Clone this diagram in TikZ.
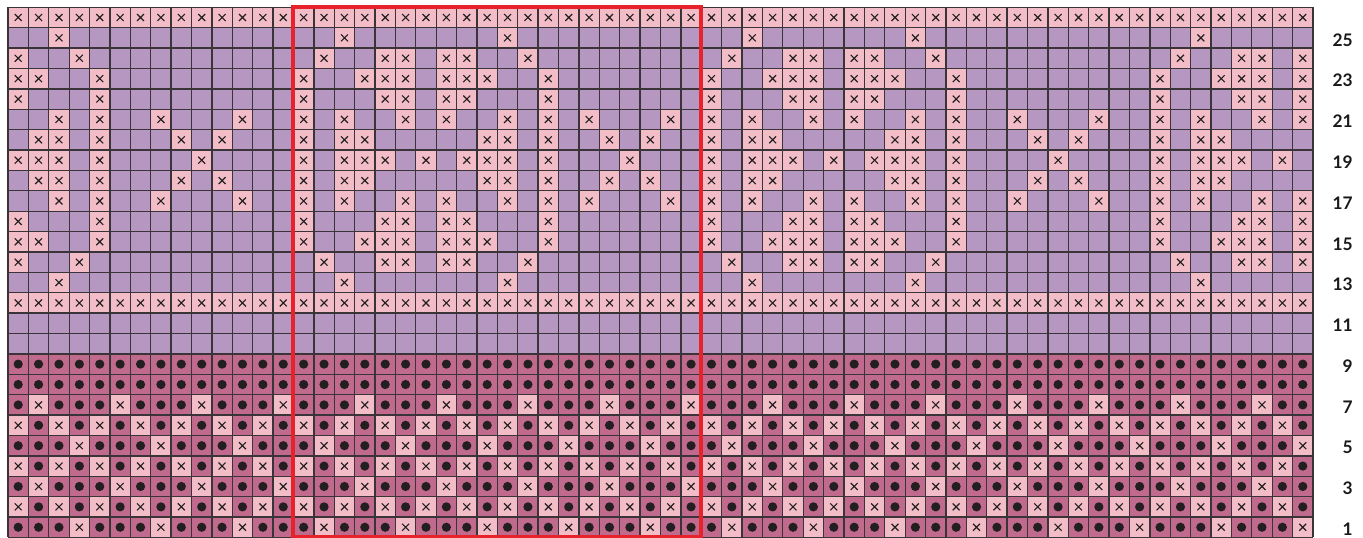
\documentclass[tikz,border=0pt]{standalone}
\usepackage{fontspec}
\setmainfont{Lato}
\definecolor{lav}{HTML}{B597C1}
\definecolor{pinkc}{HTML}{F2BDC7}
\definecolor{mauve}{HTML}{C06A8D}
\definecolor{gridc}{HTML}{3A3438}
\definecolor{redc}{HTML}{E8222B}
\definecolor{dotc}{HTML}{231F20}
\tikzset{
  xmark/.style={draw=dotc, line width=0.85pt},
  gridline/.style={draw=gridc, line width=1pt},
  repeatbox/.style={draw=redc, line width=3pt},
  rowlabel/.style={anchor=east, font=\fontsize{13}{15}\selectfont\bfseries, text=black!90, inner sep=0pt},
}
\newcommand\knitx[2]{\fill[pinkc] (#1,#2) rectangle ++(1,1);
  \draw[xmark] (#1+0.5,#2+0.5) +(-0.17,-0.17) -- +(0.17,0.17) +(-0.17,0.17) -- +(0.17,-0.17);}
\newcommand\knitdot[2]{\fill[dotc] (#1+0.5,#2+0.5) circle (3.45pt);}
\begin{document}
\begin{tikzpicture}[x=0.75pt,y=-0.75pt]
\useasboundingbox (0,0) rectangle (1363,538);
\begin{scope}[shift={(6pt,-5.475pt)},x=15.2925pt,y=-15.2925pt]
  % backgrounds (k = 26 - row number)
  \fill[lav] (0,0) rectangle (64,17);
  \fill[mauve] (0,17) rectangle (64,26);
  % full rows of crosses: rows 26 and 12
  \foreach \k in {0,14} \foreach \c in {0,...,63} {\knitx{\c}{\k}}
  % motif rows 13-25 (mirrored about row 19)
  \foreach \ka/\kb/\cols in {
    1/13/{2,16,24,36,44,58},
    2/12/{0,3,15,18,19,21,22,25,35,38,39,41,42,45,57,60,61,63},
    3/11/{0,1,4,14,17,18,19,21,22,23,26,34,37,38,39,41,42,43,46,56,59,60,61,63},
    4/10/{0,4,14,18,19,21,22,26,34,38,39,41,42,46,56,60,61,63},
    5/9/{2,4,7,11,14,16,19,21,24,26,28,32,34,36,39,41,44,46,49,53,56,58,61,63},
    6/8/{1,2,4,8,10,14,16,17,23,24,26,29,31,34,36,37,43,44,46,50,52,56,58,59},
    7/7/{0,1,2,4,9,14,16,17,18,20,22,23,24,26,30,34,36,37,38,40,42,43,44,46,51,56,58,59,60,62}}
  {\foreach \c in \cols {\knitx{\c}{\ka}\knitx{\c}{\kb}}}
  % rows 9 and 8: all dots
  \foreach \k in {17,18} \foreach \c in {0,...,63} {\knitdot{\c}{\k}}
  % rows 6, 4, 2: alternating
  \foreach \k in {20,22,24} {
    \foreach \c in {0,2,...,62} {\knitx{\c}{\k}}
    \foreach \c in {1,3,...,63} {\knitdot{\c}{\k}}}
  % rows 7 and 3
  \foreach \k in {19,23} \foreach \c in {0,4,...,60} {
    \knitdot{\c}{\k}\knitx{\c+1}{\k}\knitdot{\c+2}{\k}\knitdot{\c+3}{\k}}
  % rows 5 and 1
  \foreach \k in {21,25} \foreach \c in {0,4,...,60} {
    \knitdot{\c}{\k}\knitdot{\c+1}{\k}\knitdot{\c+2}{\k}\knitx{\c+3}{\k}}
  % grid
  \foreach \i in {0,...,64} {\draw[gridline] (\i,0) -- (\i,26);}
  \foreach \j in {0,...,26} {\draw[gridline] (0,\j) -- (64,\j);}
  % repeat box
  \draw[repeatbox] (14,0) rectangle (34,26);
  % row labels
  \foreach \r in {1,3,...,25} {
    \pgfmathtruncatemacro\kk{26-\r}
    \node[rowlabel] (lab\r) at (65.96,\kk+0.6) {\r};}
\end{scope}
\end{tikzpicture}
\end{document}
